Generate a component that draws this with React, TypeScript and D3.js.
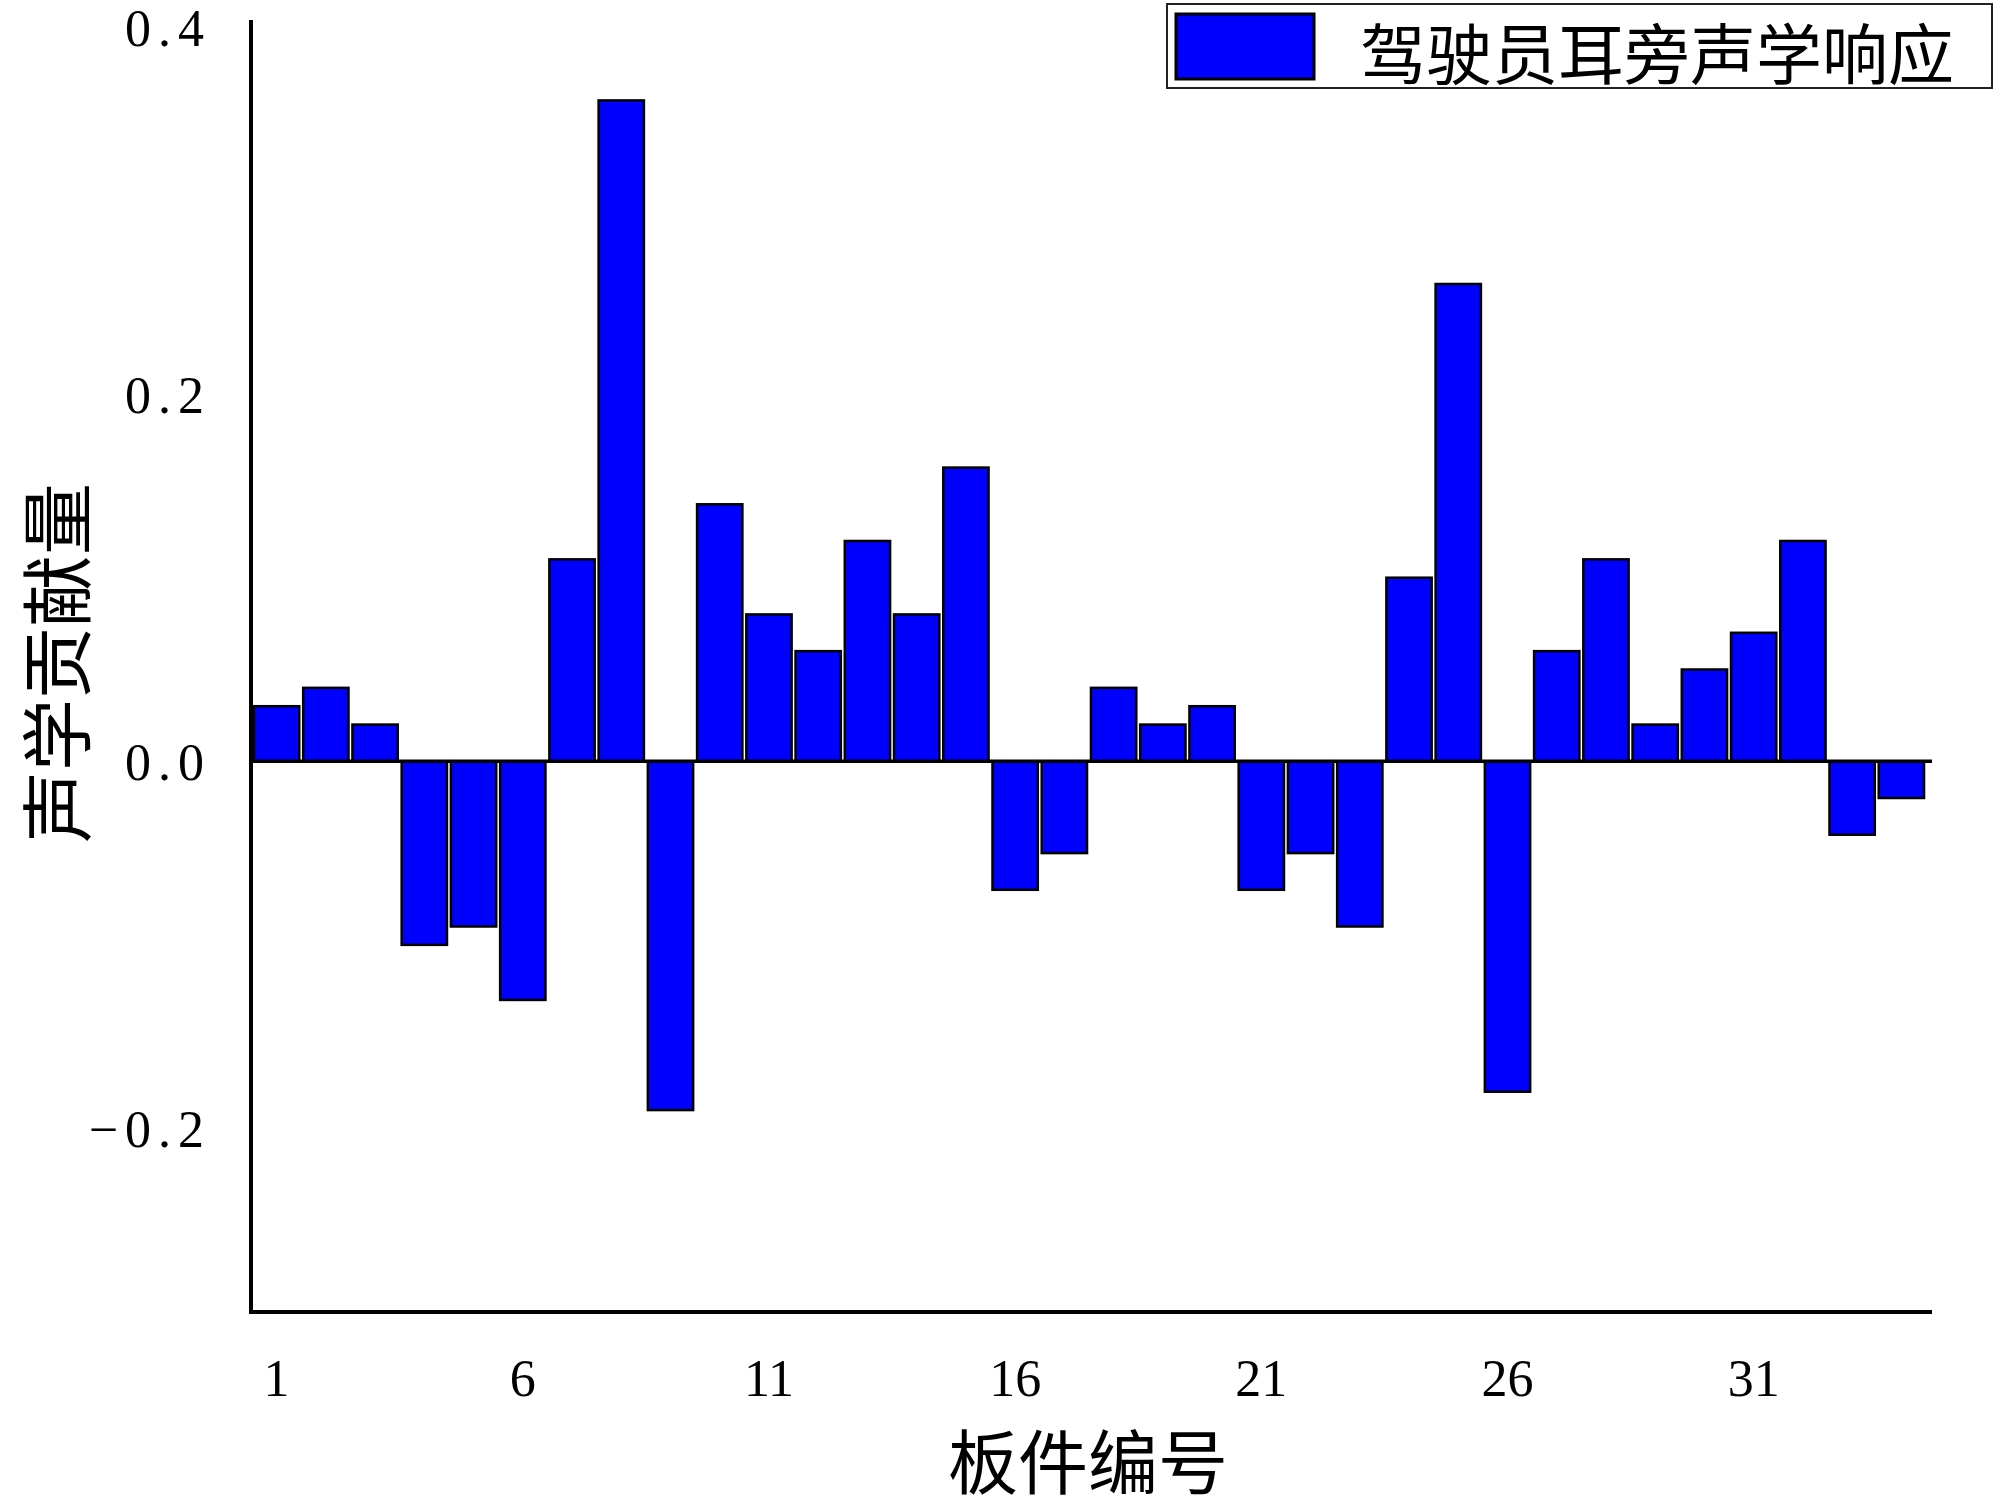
import React, { useEffect, useRef } from 'react';
import * as d3 from 'd3';

const panels = d3.range(1, 35);
const contribution = [
  0.03, 0.04, 0.02, -0.1, -0.09, -0.13, 0.11, 0.36, -0.19, 0.14,
  0.08, 0.06, 0.12, 0.08, 0.16, -0.07, -0.05, 0.04, 0.02, 0.03,
  -0.07, -0.05, -0.09, 0.1, 0.26, -0.18, 0.06, 0.11, 0.02, 0.05,
  0.07, 0.12, -0.04, -0.02,
];
const xTicks = [1, 6, 11, 16, 21, 26, 31];
const yTicks = [-0.2, 0, 0.2, 0.4];
const seriesName = '驾驶员耳旁声学响应';
const xTitle = '板件编号';
const yTitle = '声学贡献量';

const W = 2000;
const H = 1511;
const CJK = '"Noto Sans CJK SC", sans-serif';
const NUM = '"Liberation Serif", "DejaVu Serif", serif';

const App = () => {
  const svgRef = useRef<SVGSVGElement>(null);

  useEffect(() => {
    const svg = d3.select(svgRef.current);
    svg.selectAll('*').remove();

    const left = 251;
    const right = 1932;
    const x = d3.scaleBand<number>()
      .domain(panels)
      .range([252, 1926])
      .paddingInner(0.08)
      .paddingOuter(0.04);
    const y = d3.scaleLinear().domain([-0.3, 0.4]).range([1312, 27]);

    // bars
    svg.append('g')
      .selectAll('rect')
      .data(contribution)
      .enter()
      .append('rect')
      .attr('x', (d, i) => x(panels[i]) as number)
      .attr('y', (d) => y(Math.max(0, d)))
      .attr('width', x.bandwidth())
      .attr('height', (d) => Math.abs(y(d) - y(0)))
      .attr('fill', '#0000ff')
      .attr('stroke', '#000')
      .attr('stroke-width', 2.5);

    // zero line
    svg.append('line')
      .attr('x1', left).attr('x2', right)
      .attr('y1', y(0)).attr('y2', y(0))
      .attr('stroke', '#000').attr('stroke-width', 3.5);

    // axis lines
    svg.append('line')
      .attr('x1', left).attr('x2', left)
      .attr('y1', y(0.4) - 7).attr('y2', y(-0.3) + 2)
      .attr('stroke', '#000').attr('stroke-width', 4);
    svg.append('line')
      .attr('x1', left - 2).attr('x2', right)
      .attr('y1', y(-0.3)).attr('y2', y(-0.3))
      .attr('stroke', '#000').attr('stroke-width', 4);

    // y tick labels
    const yAxis = d3.axisLeft(y)
      .tickValues(yTicks)
      .tickSize(0)
      .tickPadding(40)
      .tickFormat(d3.format('.1f'));
    const gy = svg.append('g').attr('transform', `translate(${left},0)`).call(yAxis);
    gy.select('.domain').remove();
    gy.selectAll('text')
      .attr('dy', '0.35em')
      .style('font-family', NUM)
      .style('font-size', '52px')
      .style('letter-spacing', '7px')
      .attr('fill', '#000');

    // x tick labels
    const xAxis = d3.axisBottom(x).tickValues(xTicks).tickSize(0).tickPadding(0);
    const gx = svg.append('g').attr('transform', `translate(0,${y(-0.3)})`).call(xAxis);
    gx.select('.domain').remove();
    gx.selectAll('text')
      .attr('y', 66)
      .attr('dy', '0.35em')
      .style('font-family', NUM)
      .style('font-size', '52px')
      .attr('fill', '#000');

    // axis titles
    svg.append('text')
      .attr('x', 1088).attr('y', 1489)
      .attr('text-anchor', 'middle')
      .style('font-family', CJK)
      .style('font-size', '70px')
      .text(xTitle);
    svg.append('text')
      .attr('transform', 'translate(84,663) rotate(-90)')
      .attr('text-anchor', 'middle')
      .style('font-family', CJK)
      .style('font-size', '72px')
      .text(yTitle);

    // legend
    const lg = svg.append('g');
    lg.append('rect')
      .attr('x', 1167).attr('y', 4).attr('width', 825).attr('height', 84)
      .attr('fill', '#fff').attr('stroke', '#222').attr('stroke-width', 2);
    lg.append('rect')
      .attr('x', 1176).attr('y', 14).attr('width', 138).attr('height', 65)
      .attr('fill', '#0000ff').attr('stroke', '#000').attr('stroke-width', 3);
    lg.append('text')
      .attr('x', 1360).attr('y', 50)
      .attr('dominant-baseline', 'central')
      .style('font-family', CJK)
      .style('font-size', '66px')
      .text(seriesName);
  }, []);

  return (
    <svg
      ref={svgRef}
      width={W}
      height={H}
      style={{ position: 'absolute', left: 0, top: 0, background: '#fff' }}
    />
  );
};

export default App;
